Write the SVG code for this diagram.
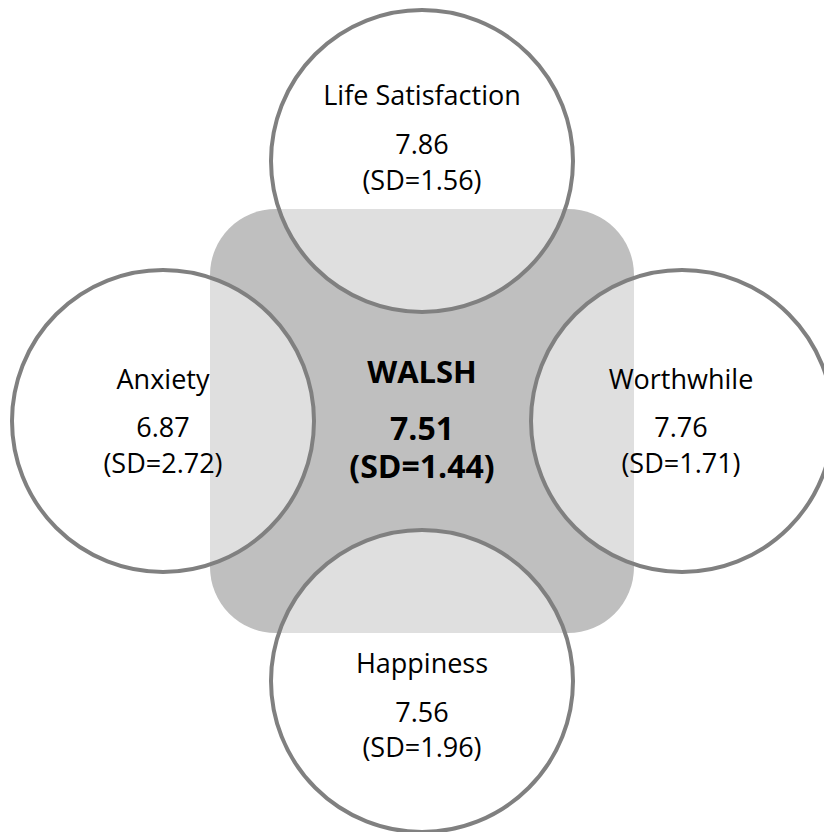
<svg xmlns="http://www.w3.org/2000/svg" width="824" height="832" viewBox="0 0 824 832">
  <style>
    .hub { fill: #bfbfbf; }
    .ring { fill: #ffffff; fill-opacity: 0.5; stroke: #808080; stroke-width: 4; }
    .lbl { font-family: "Open Sans", "Noto Sans", "Liberation Sans", sans-serif; font-size: 27px; fill: #000000; text-anchor: middle; }
    .hubtxt { font-family: "Open Sans", "Noto Sans", "Liberation Sans", sans-serif; font-weight: bold; fill: #000000; text-anchor: middle; }
  </style>
  <rect width="824" height="832" fill="#ffffff"/>

  <!-- central score block -->
  <g id="walsh">
    <rect class="hub" x="210" y="209" width="424" height="424" rx="66" ry="66"/>
    <text class="hubtxt" x="422" y="383" font-size="31">WALSH</text>
    <text class="hubtxt" x="422" y="440" font-size="32">7.51</text>
    <text class="hubtxt" x="422" y="478" font-size="32">(SD=1.44)</text>
  </g>

  <!-- no connectors: the four measures overlap the central block directly -->
  <g id="connectors"/>

  <g id="life-satisfaction">
    <circle class="ring" cx="422" cy="161" r="151"/>
    <text class="lbl" x="422" y="105">Life Satisfaction</text>
    <text class="lbl" x="422" y="154">7.86</text>
    <text class="lbl" x="422" y="190">(SD=1.56)</text>
  </g>

  <g id="anxiety">
    <circle class="ring" cx="163" cy="421" r="151"/>
    <text class="lbl" x="163" y="389">Anxiety</text>
    <text class="lbl" x="163" y="437">6.87</text>
    <text class="lbl" x="163" y="473">(SD=2.72)</text>
  </g>

  <g id="worthwhile">
    <circle class="ring" cx="682" cy="421" r="151"/>
    <text class="lbl" x="681" y="389">Worthwhile</text>
    <text class="lbl" x="681" y="437">7.76</text>
    <text class="lbl" x="681" y="473">(SD=1.71)</text>
  </g>

  <g id="happiness">
    <circle class="ring" cx="422" cy="681" r="151"/>
    <text class="lbl" x="422" y="673">Happiness</text>
    <text class="lbl" x="422" y="722">7.56</text>
    <text class="lbl" x="422" y="757">(SD=1.96)</text>
  </g>
</svg>
